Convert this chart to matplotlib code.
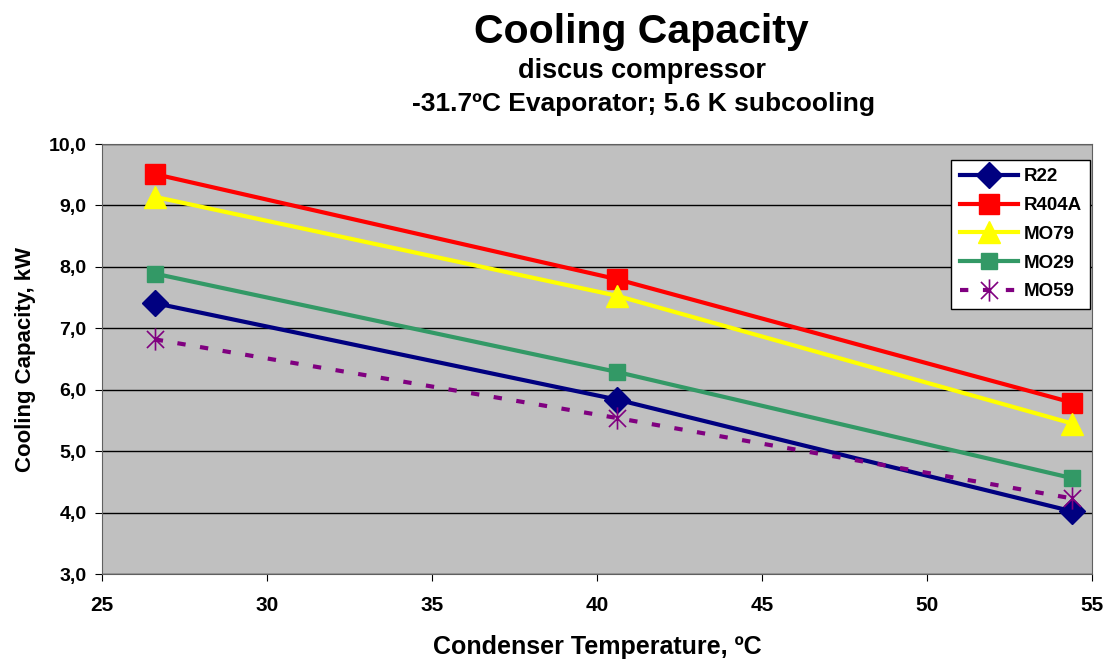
import matplotlib
matplotlib.use('Agg')
import matplotlib.pyplot as plt
from matplotlib.ticker import FuncFormatter
from matplotlib.path import Path

plt.rcParams['font.family'] = ['Liberation Sans', 'DejaVu Sans']
plt.rcParams['font.weight'] = 'bold'

# condenser temperatures (80F, 105F, 130F)
cond_temp = [26.6, 40.6, 54.4]

r22 = [7.41, 5.84, 4.02]
r404a = [9.51, 7.80, 5.79]
mo79 = [9.14, 7.53, 5.45]
mo29 = [7.89, 6.29, 4.56]
mo59 = [6.82, 5.54, 4.23]

# excel-like star: X plus a vertical bar
star = Path([(-1, -1), (1, 1), (-1, 1), (1, -1), (0, -1.3), (0, 1.3)],
            [Path.MOVETO, Path.LINETO, Path.MOVETO, Path.LINETO, Path.MOVETO, Path.LINETO])

fig = plt.figure(figsize=(11.14, 6.68), dpi=100)
ax = fig.add_axes([102/1114, 1 - 574/668, 990/1114, 430/668])
ax.set_facecolor('#c0c0c0')

ax.plot(cond_temp, r22, color='#000080', lw=3, marker='D', ms=13, label='R22', zorder=5)
ax.plot(cond_temp, r404a, color='#ff0000', lw=3, marker='s', ms=14, label='R404A', zorder=5)
ax.plot(cond_temp, mo79, color='#ffff00', lw=3, marker='^', ms=16, label='MO79', zorder=5)
ax.plot(cond_temp, mo29, color='#339966', lw=3, marker='s', ms=11, label='MO29', zorder=5)
ax.plot(cond_temp, mo59, color='#800080', lw=3, ls=(0, (2, 3.5)), marker=star, ms=16,
        mew=1.2, mfc='none', label='MO59', zorder=6)

ax.set_xlim(25, 55)
ax.set_ylim(3, 10)
ax.set_xticks(range(25, 56, 5))
ax.set_yticks(range(3, 11))
ax.yaxis.set_major_formatter(FuncFormatter(lambda v, p: ('%.1f' % v).replace('.', ',')))
ax.grid(axis='y', color='black', lw=1)
ax.set_axisbelow(True)
for s in ax.spines.values():
    s.set_color('#606060')
ax.tick_params(length=5, direction='out')
ax.tick_params(axis='x', pad=11, labelsize=15)
ax.tick_params(axis='y', pad=6, labelsize=14)
for lab in ax.get_xticklabels() + ax.get_yticklabels():
    lab.set_fontweight('bold')

ax.set_xlabel('Condenser Temperature, ºC', fontsize=18, fontweight='bold', labelpad=14)
ax.set_ylabel('Cooling Capacity, kW', fontsize=16, fontweight='bold', labelpad=9)

fig.text(0.576, 0.952, 'Cooling Capacity', ha='center', va='center', fontsize=29.5, fontweight='bold')
fig.text(0.576, 0.893, 'discus compressor', ha='center', va='center', fontsize=19.5, fontweight='bold')
fig.text(0.578, 0.845, '-31.7ºC Evaporator; 5.6 K subcooling', ha='center', va='center', fontsize=19, fontweight='bold')

leg = ax.legend(loc='upper right', bbox_to_anchor=(0.998, 0.963), fontsize=13.5, frameon=True,
                fancybox=False, edgecolor='black', framealpha=1, handlelength=3.1,
                handletextpad=0.3, labelspacing=0.62, borderpad=0.45, borderaxespad=0)
leg.get_frame().set_linewidth(1)
for t in leg.get_texts():
    t.set_fontweight('bold')

fig.savefig('out.png', dpi=100)
